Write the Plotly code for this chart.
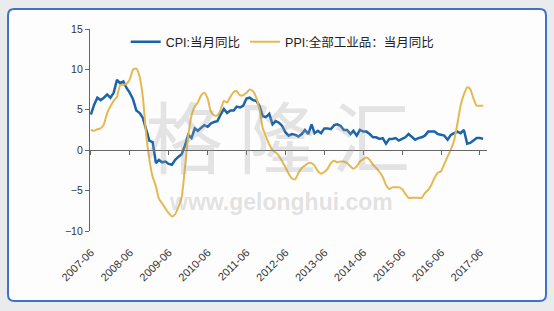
import pandas as pd
import plotly.graph_objects as go

# Monthly data, 2007-06 .. 2017-07
start_month = "2007-06-01"
cpi = [4.4, 5.6, 6.5, 6.2, 6.5, 6.9, 6.5,
       7.1, 8.7, 8.3, 8.5, 7.7, 7.1, 6.3, 4.9, 4.6, 4.0, 2.4, 1.2,
       1.0, -1.6, -1.2, -1.5, -1.4, -1.7, -1.8, -1.2, -0.8, -0.5, 0.6, 1.9,
       1.5, 2.7, 2.4, 2.8, 3.1, 2.9, 3.3, 3.5, 3.6, 4.4, 5.1, 4.6,
       4.9, 4.9, 5.4, 5.3, 5.5, 6.4, 6.5, 6.2, 6.1, 5.5, 4.2, 4.1,
       4.5, 3.2, 3.6, 3.4, 3.0, 2.2, 1.8, 2.0, 1.9, 1.7, 2.0, 2.5,
       2.0, 3.2, 2.1, 2.4, 2.1, 2.7, 2.7, 2.6, 3.1, 3.2, 3.0, 2.5,
       2.5, 2.0, 2.4, 1.8, 2.5, 2.3, 2.3, 2.0, 1.6, 1.6, 1.4, 1.5,
       0.8, 1.4, 1.4, 1.5, 1.2, 1.4, 1.6, 2.0, 1.6, 1.3, 1.5, 1.6,
       1.8, 2.3, 2.3, 2.3, 2.0, 1.9, 1.8, 1.3, 1.9, 2.1, 2.3, 2.1,
       2.5, 0.8, 0.9, 1.2, 1.5, 1.5, 1.4]
ppi = [2.5, 2.4, 2.6, 2.7, 3.2, 4.6, 5.4,
       6.1, 6.6, 8.0, 8.1, 8.2, 8.8, 10.0, 10.1, 9.1, 6.6, 2.0, -1.1,
       -3.3, -4.5, -6.0, -6.6, -7.2, -7.8, -8.2, -7.9, -7.0, -5.8, -2.1, 1.7,
       4.3, 5.4, 5.9, 6.8, 7.1, 6.4, 4.8, 4.3, 4.3, 5.0, 6.1, 5.9,
       6.6, 7.2, 7.3, 6.8, 6.8, 7.1, 7.5, 7.3, 6.5, 5.0, 2.7, 1.7,
       0.7, 0.0, -0.3, -0.7, -1.4, -2.1, -2.9, -3.5, -3.6, -2.8, -2.2, -1.9,
       -1.6, -1.6, -1.9, -2.6, -2.9, -2.7, -2.3, -1.6, -1.3, -1.5, -1.4, -1.4,
       -1.6, -2.0, -2.3, -2.0, -1.4, -1.1, -0.9, -1.2, -1.8, -2.2, -2.7, -3.3,
       -4.3, -4.8, -4.6, -4.6, -4.6, -4.8, -5.4, -5.9, -5.9, -5.9, -5.9, -5.9,
       -5.3, -4.9, -4.3, -3.4, -2.8, -2.6, -1.7, -0.8, 0.1, 1.2, 3.3, 5.5,
       6.9, 7.8, 7.6, 6.4, 5.5, 5.5, 5.5]
months = pd.date_range(start_month, periods=len(cpi), freq="MS")
tick_vals = pd.date_range("2007-06-01", "2017-06-01", freq="12MS")
tick_text = [d.strftime("%Y-%m") for d in tick_vals]
series_names = ["CPI:当月同比", "PPI:全部工业品：当月同比"]

FONT = "Liberation Sans, Arial, Noto Sans CJK SC, sans-serif"
x_range = ["2007-05-24", "2017-08-06"]

fig = go.Figure()
fig.add_trace(go.Scatter(x=months, y=cpi, name=series_names[0], mode="lines",
                         line=dict(color="#1c64a8", width=2.5)))
fig.add_trace(go.Scatter(x=months, y=ppi, name=series_names[1], mode="lines",
                         line=dict(color="#e5b850", width=2, shape="spline", smoothing=0.5)))

# panel geometry in paper fractions (plot area: x 90..487, y 29..231)
x0, x1, y0, y1 = -0.2065, 1.1486, -0.3465, 1.099
rx, ry = 0.016, 0.031
panel = (f"M {x0+rx},{y0} L {x1-rx},{y0} Q {x1},{y0} {x1},{y0+ry} "
         f"L {x1},{y1-ry} Q {x1},{y1} {x1-rx},{y1} L {x0+rx},{y1} "
         f"Q {x0},{y1} {x0},{y1-ry} L {x0},{y0+ry} Q {x0},{y0} {x0+rx},{y0} Z")

fig.update_layout(
    width=554, height=311,
    margin=dict(l=90, r=67, t=29, b=80),
    paper_bgcolor="#eaebec",
    plot_bgcolor="rgba(0,0,0,0)",
    font=dict(family=FONT, size=10, color="#333333"),
    shapes=[dict(type="path", path=panel, xref="paper", yref="paper",
                 fillcolor="#fdfdfd", line=dict(color="#3f72c6", width=2), layer="below")],
    showlegend=True,
    legend=dict(orientation="h", x=0.09, y=0.935, xanchor="left", yanchor="middle",
                bgcolor="rgba(0,0,0,0)", font=dict(size=12.5, color="#222222"),
                itemwidth=30),
    xaxis=dict(type="date", range=x_range, anchor="free", position=0.4,
               showline=True, linecolor="#666666", linewidth=1.2,
               ticks="outside", ticklen=4, tickcolor="#666666",
               tickvals=tick_vals, showticklabels=False, showgrid=False, zeroline=False),
    xaxis2=dict(type="date", range=x_range, overlaying="x", anchor="y", side="bottom",
                showline=False, ticks="", tickvals=tick_vals, ticktext=tick_text,
                tickangle=-45, showgrid=False, zeroline=False, ticklabelstandoff=12,
                tickfont=dict(size=11, color="#333333")),
    yaxis=dict(range=[-10, 15], tickvals=[-10, -5, 0, 5, 10, 15],
               ticktext=["−10", "−5", "0", "5", "10", "15"],
               showline=True, linecolor="#666666", linewidth=1.2,
               ticks="outside", ticklen=4, tickcolor="#666666",
               showgrid=False, zeroline=False, tickfont=dict(size=10.5, color="#333333")),
    annotations=[
        dict(text="格\u2009隆\u2009汇", xref="paper", yref="paper", x=0.472, y=0.48,
             showarrow=False, font=dict(family="Noto Sans CJK SC", size=78,
                                        color="rgba(160,160,160,0.28)")),
        dict(text="www.gelonghui.com", xref="paper", yref="paper", x=0.48, y=0.07,
             showarrow=False, font=dict(family="Liberation Sans, Arial", size=23,
                                        color="rgba(160,160,160,0.3)", weight="bold")),
    ],
)
# invisible trace keeping the label axis active
fig.add_trace(go.Scatter(x=[months[0]], y=[None], xaxis="x2", showlegend=False,
                         hoverinfo="skip", mode="lines"))

fig.write_html("out.html")
